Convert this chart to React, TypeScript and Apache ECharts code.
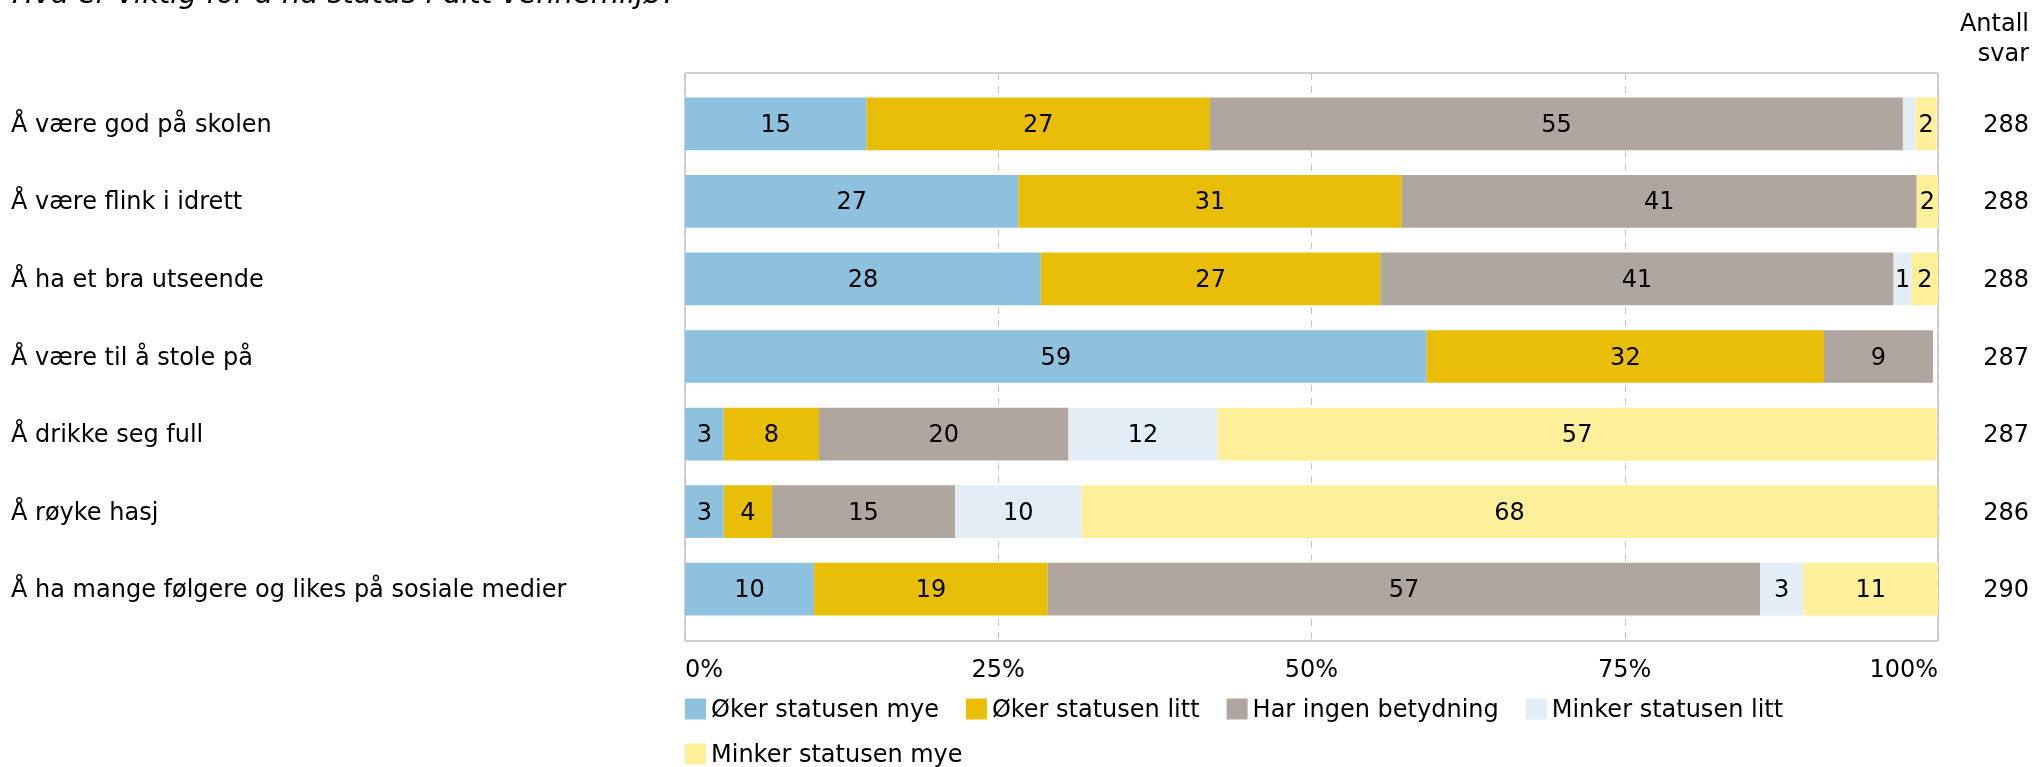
import React, { useEffect, useRef } from "react";
import * as echarts from "echarts";

const titleText = "Hva er viktig for å ha status i ditt vennemiljø?";
const countHeader = "Antall\nsvar";
const categories = [
  "Å være god på skolen",
  "Å være flink i idrett",
  "Å ha et bra utseende",
  "Å være til å stole på",
  "Å drikke seg full",
  "Å røyke hasj",
  "Å ha mange følgere og likes på sosiale medier",
];
const counts = ["288", "288", "288", "287", "287", "286", "290"];
const seriesNames = [
  "Øker statusen mye",
  "Øker statusen litt",
  "Har ingen betydning",
  "Minker statusen litt",
  "Minker statusen mye",
];
const okerMye = [14.5, 26.6, 28.4, 59.2, 3.1, 3.1, 10.3];
const okerLitt = [27.4, 30.6, 27.1, 31.7, 7.6, 3.85, 18.65];
const ingenBetydning = [55.3, 41.1, 40.95, 8.7, 19.9, 14.6, 56.85];
const minkerLitt = [1.0, 0, 1.45, 0, 11.9, 10.1, 3.45];
const minkerMye = [1.7, 1.7, 2.1, 0, 57.4, 68.3, 10.75];
const xTicks = [0, 25, 50, 75, 100];

const colors = ["#8dc1de", "#e9be08", "#aea69f", "#e2edf6", "#fef09b"];
const FONT = "DejaVu Sans";

export default function App() {
  const ref = useRef<HTMLDivElement>(null);
  useEffect(() => {
    if (!ref.current) return;
    const chart = echarts.init(ref.current, undefined, { renderer: "svg" });
    const values = [okerMye, okerLitt, ingenBetydning, minkerLitt, minkerMye];
    const gridLeft = 685;
    const gridRight = 2033 - 1938;
    const legendBase = {
      left: gridLeft,
      padding: 0,
      icon: "rect",
      itemWidth: 21,
      itemHeight: 21,
      itemGap: 27,
      textStyle: { fontSize: 24, color: "#000", fontFamily: FONT },
    };
    chart.setOption({
      animation: false,
      color: colors,
      textStyle: { fontFamily: FONT },
      grid: [
        { left: gridLeft, right: gridRight, top: 73, bottom: 767 - 641, show: true, borderColor: "#a3a3a3", borderWidth: 1, containLabel: false },
        { left: gridLeft, right: gridRight, top: 85, height: 543, containLabel: false },
      ],
      legend: [
        { ...legendBase, data: seriesNames.slice(0, 4), top: 697 },
        { ...legendBase, data: seriesNames.slice(4), top: 742 },
      ],
      xAxis: [
        {
          type: "value",
          gridIndex: 0,
          min: xTicks[0],
          max: xTicks[xTicks.length - 1],
          interval: 25,
          axisLine: { show: false },
          axisTick: { show: false },
          splitLine: { show: true, lineStyle: { color: "#c4c4c4", type: [7, 6], width: 1 } },
          axisLabel: {
            formatter: "{value}%",
            fontSize: 24,
            color: "#000",
            fontFamily: FONT,
            margin: 16,
            alignMinLabel: "left",
            alignMaxLabel: "right",
          },
        },
        { type: "value", gridIndex: 1, min: 0, max: 100, show: false },
      ],
      yAxis: [
        { type: "value", gridIndex: 0, show: false },
        {
          type: "category",
          gridIndex: 1,
          data: categories,
          inverse: true,
          axisLine: { show: false },
          axisTick: { show: false },
          axisLabel: { align: "left", margin: gridLeft - 11, fontSize: 24, color: "#000", fontFamily: FONT },
        },
        {
          type: "category",
          gridIndex: 1,
          position: "right",
          data: counts,
          inverse: true,
          axisLine: { show: false },
          axisTick: { show: false },
          axisLabel: { align: "right", margin: 2029 - 1938, fontSize: 24, color: "#000", fontFamily: FONT },
        },
      ],
      graphic: [
        {
          type: "text",
          x: 12,
          y: -7,
          style: { text: titleText, fontSize: 29, fontStyle: "italic", fontFamily: FONT, fill: "#000", verticalAlign: "middle" },
        },
        {
          type: "text",
          x: 2029,
          y: 8,
          style: { text: countHeader, fontSize: 24, fontFamily: FONT, fill: "#000", align: "right", verticalAlign: "top", lineHeight: 30 },
        },
      ],
      series: seriesNames.map((name, i) => ({
        name,
        type: "bar",
        stack: "total",
        xAxisIndex: 1,
        yAxisIndex: 1,
        barWidth: "68%",
        data: values[i],
        itemStyle: { color: colors[i] },
        label: {
          show: true,
          position: "inside",
          color: "#000",
          fontSize: 24,
          fontFamily: FONT,
          formatter: (p: any) => (p.value >= 1.2 ? String(Math.round(p.value)) : ""),
        },
      })),
    });
    return () => chart.dispose();
  }, []);
  return <div ref={ref} style={{ position: "fixed", left: 0, top: 0, width: 2033, height: 767 }} />;
}
